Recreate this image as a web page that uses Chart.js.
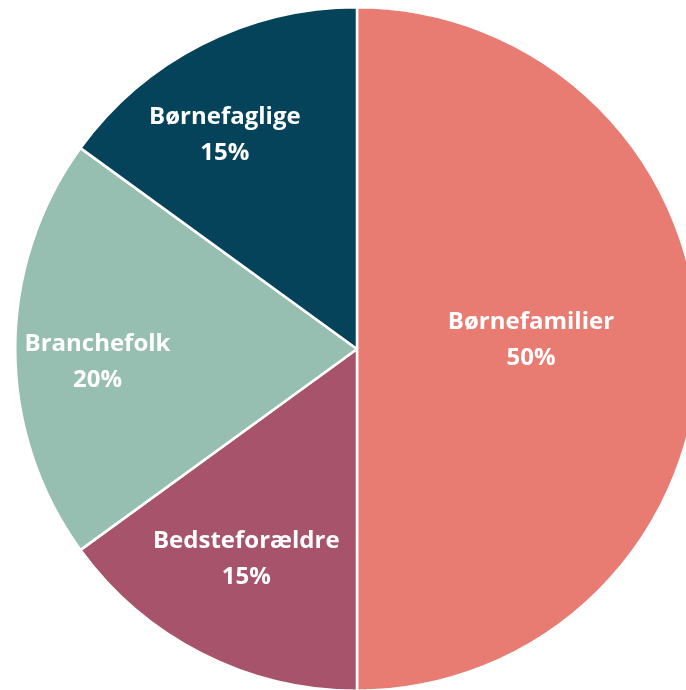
<!DOCTYPE html>
<html>
<head>
<meta charset="utf-8">
<script src="https://cdn.jsdelivr.net/npm/chart.js@4"></script>
<style>
  html, body { margin: 0; padding: 0; background: #fff; overflow: hidden; width: 686px; height: 690px; }
  #wrap { position: absolute; left: 0; top: 0; }
</style>
</head>
<body>
<div id="wrap"><canvas id="pie" width="714" height="698"></canvas></div>
<script>
// data
const categories = ['Børnefamilier', 'Bedsteforældre', 'Branchefolk', 'Børnefaglige'];
const shares = [50, 15, 20, 15];
const sliceColors = ['#E87C73', '#A8536C', '#97BFB1', '#04435A'];

// where each label sits: fraction of radius + angle nudge (degrees)
const labelFrac = [0.51, 0.69, 0.76, 0.74];
const labelNudge = [-3.5, 1, -2.4, -4.5];

const labelPlugin = {
    id: 'sliceLabels',
    afterDatasetsDraw(chart) {
        const ctx = chart.ctx;
        const meta = chart.getDatasetMeta(0);
        ctx.save();
        ctx.fillStyle = '#fff';
        ctx.font = 'bold 24px "Open Sans"';
        ctx.textAlign = 'center';
        ctx.textBaseline = 'middle';
        meta.data.forEach((arc, i) => {
            const mid = (arc.startAngle + arc.endAngle) / 2 + labelNudge[i] * Math.PI / 180;
            const r = arc.outerRadius * labelFrac[i];
            const x = arc.x + Math.cos(mid) * r;
            const y = arc.y + Math.sin(mid) * r;
            ctx.fillText(categories[i], x, y - 16);
            ctx.fillText(shares[i] + '%', x, y + 20);
        });
        ctx.restore();
    }
};

new Chart(document.getElementById('pie'), {
    type: 'pie',
    data: {
        labels: categories,
        datasets: [{
            data: shares,
            backgroundColor: sliceColors,
            borderColor: '#fff',
            borderWidth: 2.5
        }]
    },
    options: {
        responsive: false,
        animation: false,
        layout: { padding: 6 },
        plugins: {
            legend: { display: false },
            tooltip: { enabled: false }
        }
    },
    plugins: [labelPlugin]
});
</script>
</body>
</html>
